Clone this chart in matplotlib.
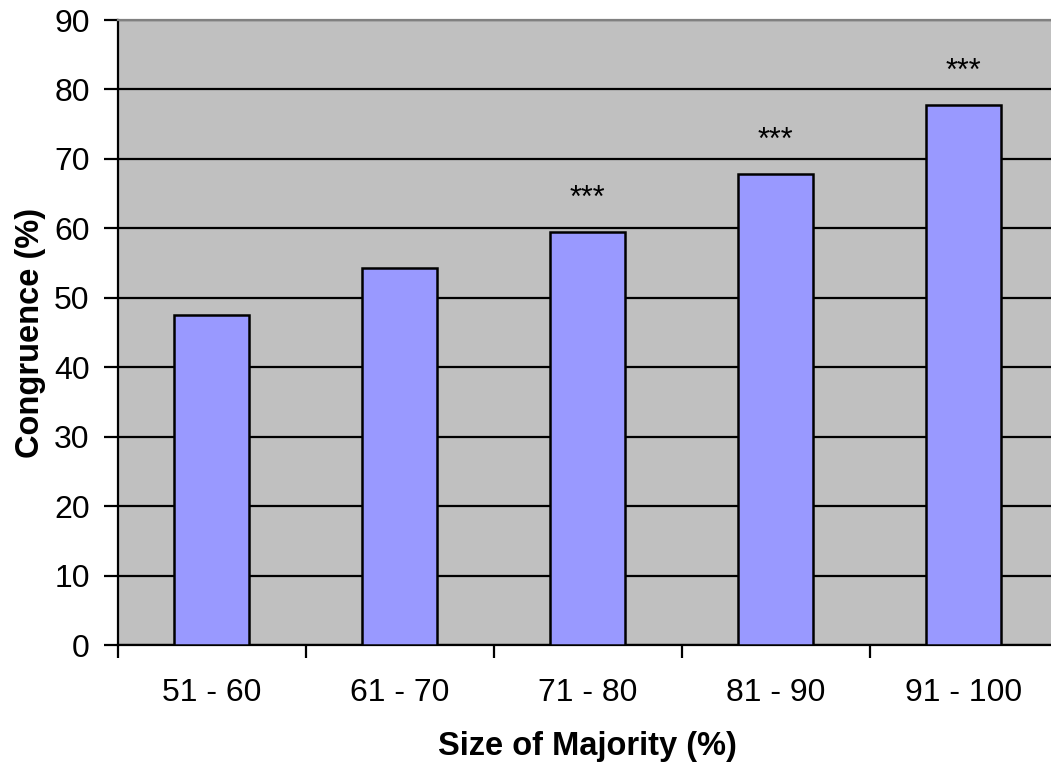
import matplotlib
matplotlib.use('Agg')
import matplotlib.pyplot as plt
import numpy as np

plt.rcParams['font.family'] = ['Liberation Sans', 'DejaVu Sans']

categories = ['51 - 60', '61 - 70', '71 - 80', '81 - 90', '91 - 100']
congruence = [47.5, 54.3, 59.5, 67.8, 77.8]
marks = ['', '', '***', '***', '***']

fig = plt.figure(figsize=(10.51, 7.70), dpi=100)
# plot area runs slightly past the right edge of the image, as in the original
ax = fig.add_axes([0.1118, 0.1623, 0.8944, 0.8117])
ax.set_facecolor('#C0C0C0')

x = np.arange(len(categories))
ax.bar(x, congruence, width=0.40, color='#9999FF', edgecolor='black', linewidth=1.8, zorder=3)

for xi, v, m in zip(x, congruence, marks):
    if m:
        ax.text(xi, v + 4.8, m, ha='center', va='center', fontsize=22, zorder=4)

ax.set_ylim(0, 90)
ax.set_yticks(range(0, 91, 10))
ax.set_xlim(-0.5, len(categories) - 0.5)
ax.yaxis.grid(True, color='black', linewidth=1.6, zorder=1)
ax.set_axisbelow(True)

ax.set_xticks(x)
ax.set_xticklabels(categories)
ax.set_xticks(np.arange(-0.5, len(categories), 1.0), minor=True)
ax.tick_params(axis='x', which='major', length=0, pad=24, labelsize=23)
ax.tick_params(axis='x', which='minor', length=9, width=1.6, direction='out')
ax.tick_params(axis='y', length=10, width=1.6, labelsize=23, pad=10)

ax.spines['left'].set_linewidth(1.6)
ax.spines['bottom'].set_linewidth(1.6)
ax.spines['top'].set_color('#808080')
ax.spines['top'].set_linewidth(1.6)
ax.spines['right'].set_visible(False)

ax.set_xlabel('Size of Majority (%)', fontsize=23.5, fontweight='bold', labelpad=16)
ax.set_ylabel('Congruence (%)', fontsize=23.5, fontweight='bold', labelpad=6)

plt.savefig('out.png', dpi=100)
plt.close()
